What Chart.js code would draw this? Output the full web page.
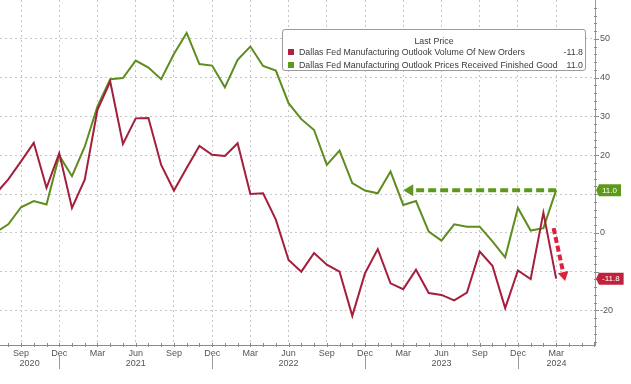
<!DOCTYPE html>
<html>
<head>
<meta charset="utf-8">
<script src="https://cdn.jsdelivr.net/npm/chart.js@4.4.1/dist/chart.umd.min.js"></script>
<style>
html,body{margin:0;padding:0;background:#fff;}
#wrap{position:relative;width:631px;height:384px;}
#legend{position:absolute;left:282px;top:29px;width:302px;height:40px;border:1px solid #9c9c9c;border-radius:3px;background:#fff;
  font-family:'Liberation Sans',Arial,sans-serif;font-size:8.8px;color:#3a3a3a;line-height:10px;}
#legend .ttl{position:absolute;top:6px;left:0;width:100%;text-align:center;}
#legend .row{position:absolute;left:5px;right:2px;height:10px;}
#legend .sq{position:absolute;left:0;top:2px;width:6px;height:6px;}
#legend .nm{position:absolute;left:11px;top:0;white-space:nowrap;}
#legend .vl{position:absolute;right:0;top:0;}
</style>
</head>
<body>
<div id="wrap">
  <canvas id="c" width="631" height="384"></canvas>
  <div id="legend">
    <div class="ttl">Last Price</div>
    <div class="row" style="top:17px"><div class="sq" style="background:#b0213d"></div><span class="nm">Dallas Fed Manufacturing Outlook Volume Of New Orders</span><span class="vl">-11.8</span></div>
    <div class="row" style="top:30px"><div class="sq" style="background:#5f9a1c"></div><span class="nm">Dallas Fed Manufacturing Outlook Prices Received Finished Good</span><span class="vl">11.0</span></div>
  </div>
</div>
<script>
// monthly observations, Jul 2020 .. Mar 2024
const months = [
  '2020-07','2020-08','2020-09','2020-10','2020-11','2020-12',
  '2021-01','2021-02','2021-03','2021-04','2021-05','2021-06','2021-07','2021-08','2021-09','2021-10','2021-11','2021-12',
  '2022-01','2022-02','2022-03','2022-04','2022-05','2022-06','2022-07','2022-08','2022-09','2022-10','2022-11','2022-12',
  '2023-01','2023-02','2023-03','2023-04','2023-05','2023-06','2023-07','2023-08','2023-09','2023-10','2023-11','2023-12',
  '2024-01','2024-02','2024-03'
];
const newOrders = [
  10.0, 13.8, 18.4, 23.2, 11.6, 20.5,
  6.4, 13.7, 31.7, 39.0, 22.9, 29.5, 29.6, 17.5, 10.9, 16.7, 22.4, 20.1,
  19.8, 23.1, 10.0, 10.2, 3.4, -7.0, -10.0, -5.2, -8.2, -10.0, -21.4, -10.4,
  -4.2, -13.0, -14.5, -9.5, -15.5, -16.0, -17.4, -15.4, -4.8, -8.5, -19.4, -9.7,
  -11.9, 5.2, -11.8
];
const pricesReceived = [
  0.1, 2.2, 6.6, 8.2, 7.3, 19.9,
  14.6, 22.2, 32.6, 39.6, 39.9, 44.4, 42.6, 39.6, 46.1, 51.5, 43.5, 43.1,
  37.5, 44.6, 48.0, 43.0, 41.8, 33.4, 29.3, 26.5, 17.5, 21.2, 12.8, 10.9,
  10.2, 15.8, 7.2, 8.2, 0.3, -2.0, 2.2, 1.6, 1.6, -2.2, -6.3, 6.4,
  0.6, 1.2, 11.0
];
const monthNames = ['Jan','Feb','Mar','Apr','May','Jun','Jul','Aug','Sep','Oct','Nov','Dec'];
const quarterLabels = ['Mar','Jun','Sep','Dec'];
const yTicks = [50, 40, 30, 20, 0, -20];
const lastValues = [-11.8, 11.0];
// annotation arrows in data units [monthIndex, value]
const greenArrow = [[44, 11.0], [32, 11.0]];
const redArrow = [[43.8, 1.2], [44.7, -12.4]];

const RED = '#a31f3c', GREEN = '#5e8c1e';
const GRID = '#c6c6c6';
const monthOf = i => monthNames[(Math.round(i) + 6) % 12];

function arrow(ctx, x, y, p0, p1, color, dash, head){
  const x0 = x.getPixelForValue(p0[0]), y0 = y.getPixelForValue(p0[1]);
  const x1 = x.getPixelForValue(p1[0]), y1 = y.getPixelForValue(p1[1]);
  const ang = Math.atan2(y1 - y0, x1 - x0);
  ctx.save();
  ctx.strokeStyle = color; ctx.fillStyle = color; ctx.lineWidth = 4;
  ctx.setLineDash(dash);
  ctx.beginPath();
  ctx.moveTo(x0, y0);
  ctx.lineTo(x1 - Math.cos(ang) * head, y1 - Math.sin(ang) * head);
  ctx.stroke();
  ctx.setLineDash([]);
  ctx.translate(x1, y1); ctx.rotate(ang);
  ctx.beginPath();
  ctx.moveTo(0, 0); ctx.lineTo(-head, -head * 0.6); ctx.lineTo(-head, head * 0.6);
  ctx.closePath(); ctx.fill();
  ctx.restore();
}

function valueTag(ctx, x0, yc, text, bg){
  ctx.save();
  ctx.font = '8px "Liberation Sans", Arial, sans-serif';
  const w = ctx.measureText(text).width + 7;
  ctx.fillStyle = bg;
  ctx.beginPath();
  ctx.moveTo(x0, yc);
  ctx.lineTo(x0 + 3, yc - 6);
  ctx.lineTo(x0 + 3 + w, yc - 6);
  ctx.lineTo(x0 + 3 + w, yc + 6);
  ctx.lineTo(x0 + 3, yc + 6);
  ctx.closePath(); ctx.fill();
  ctx.fillStyle = '#fff';
  ctx.textBaseline = 'middle';
  ctx.fillText(text, x0 + 6, yc + 0.5);
  ctx.restore();
}

const decor = {
  id: 'decor',
  afterDraw(chart){
    const {ctx, chartArea: a, scales: {x, y}} = chart;
    ctx.save();
    // month ticks on the bottom axis
    ctx.strokeStyle = '#8a8a8a'; ctx.lineWidth = 1;
    for (let i = 0; i < 48; i++) {
      const px = Math.round(x.getPixelForValue(i)) + 0.5;
      if (px < a.left || px > a.right) continue;
      ctx.beginPath(); ctx.moveTo(px, a.bottom - 2); ctx.lineTo(px, a.bottom + 2); ctx.stroke();
    }
    // minor ticks on the right axis
    for (let v = -28; v <= 58; v += 2) {
      const py = Math.round(y.getPixelForValue(v)) + 0.5;
      ctx.beginPath(); ctx.moveTo(a.right - 1, py); ctx.lineTo(a.right + (v % 10 === 0 ? 4 : 2), py); ctx.stroke();
    }
    // year separators and year labels
    ctx.strokeStyle = '#9a9a9a';
    const decIdx = [];
    months.forEach((m, i) => { if (m.endsWith('-12')) decIdx.push(i); });
    decIdx.forEach(i => {
      const px = Math.round(x.getPixelForValue(i)) + 0.5;
      ctx.beginPath(); ctx.moveTo(px, a.bottom + 11); ctx.lineTo(px, a.bottom + 24); ctx.stroke();
    });
    const bounds = [a.left, ...decIdx.map(i => x.getPixelForValue(i)), a.right];
    ctx.fillStyle = '#555'; ctx.font = '9px "Liberation Sans", Arial, sans-serif';
    ctx.textAlign = 'center'; ctx.textBaseline = 'middle';
    for (let k = 0; k < bounds.length - 1; k++) {
      ctx.fillText(String(2020 + k), (bounds[k] + bounds[k + 1]) / 2, a.bottom + 19);
    }
    ctx.restore();
    // arrows
    arrow(ctx, x, y, greenArrow[0], greenArrow[1], '#5c9a1e', [8, 4], 10);
    arrow(ctx, x, y, redArrow[0], redArrow[1], '#e0203c', [6, 3], 9);
    // last value tags
    valueTag(ctx, a.right + 1, y.getPixelForValue(lastValues[1]), lastValues[1].toFixed(1), '#5e9a1a');
    valueTag(ctx, a.right + 1, y.getPixelForValue(lastValues[0]), lastValues[0].toFixed(1), '#c0223e');
  }
};

new Chart(document.getElementById('c'), {
  type: 'line',
  data: {
    datasets: [
      {label: 'New Orders', data: newOrders.map((v, i) => ({x: i, y: v})),
       borderColor: RED, borderWidth: 2, pointRadius: 0, tension: 0},
      {label: 'Prices Received', data: pricesReceived.map((v, i) => ({x: i, y: v})),
       borderColor: GREEN, borderWidth: 2, pointRadius: 0, tension: 0}
    ]
  },
  options: {
    responsive: false, animation: false,
    layout: {padding: 0},
    plugins: {legend: {display: false}, tooltip: {enabled: false}},
    scales: {
      x: {
        type: 'linear', min: 0.35, max: 47.05,
        afterFit: s => { s.height = 39; s.paddingLeft = 0; s.paddingRight = 0; },
        border: {display: true, color: '#8a8a8a', dash: [2, 3]},
        grid: {drawTicks: false,
          color: c => quarterLabels.includes(monthOf(c.tick.value)) && c.tick.value < months.length ? GRID : 'rgba(0,0,0,0)'},
        ticks: {stepSize: 1, includeBounds: false, autoSkip: false, maxRotation: 0, padding: 3,
          color: '#555', font: {family: 'Liberation Sans', size: 9},
          callback: v => { const m = monthOf(v); return quarterLabels.includes(m) && v < months.length ? m : ''; }}
      },
      y: {
        position: 'right', min: -28.9, max: 60,
        afterFit: s => { s.width = 36; s.paddingTop = 0; s.paddingBottom = 0; },
        border: {display: true, color: '#9c9c84', dash: [2, 3]},
        grid: {drawTicks: false, color: c => c.tick.value === 60 ? 'rgba(0,0,0,0)' : GRID},
        ticks: {stepSize: 10, padding: 5, color: '#555', font: {family: 'Liberation Sans', size: 9},
          callback: v => yTicks.includes(v) ? String(v) : ''}
      }
    }
  },
  plugins: [decor]
});
</script>
</body>
</html>
